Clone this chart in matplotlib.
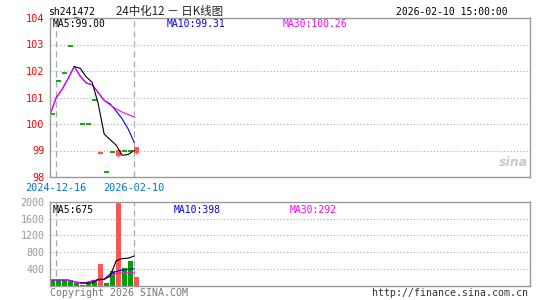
import numpy as np
import matplotlib
matplotlib.use('Agg')
import matplotlib.pyplot as plt

nan = np.nan

# daily candles (index 0..14)
opens = [100.37, 101.62, 101.94, 102.94, 104.0, 100.0, 100.0, 100.9, 98.88, 98.2, 98.96, 98.79, 99.0, 98.98, 98.89]
closes = [100.37, 101.62, 101.94, 102.94, 104.0, 100.0, 100.0, 100.9, 98.95, 98.2, 98.96, 99.01, 99.0, 98.98, 99.14]
highs = [100.37, 101.62, 101.94, 102.94, 104.0, 100.0, 100.0, 100.9, 98.97, 98.2, 98.96, 99.05, 99.0, 98.98, 99.15]
lows = [100.37, 101.62, 101.94, 102.94, 104.0, 100.0, 100.0, 100.9, 98.86, 98.2, 98.96, 98.75, 99.0, 98.98, 98.87]
up_days = [False] * 8 + [True, False, False, True, False, False, True]

ma5 = [nan, nan, nan, nan, 102.17, 102.10, 101.78, 101.57, 100.77, 99.62, 99.41, 99.20, 98.82, 98.85, 99.00]
ma10 = [100.37, 100.99, 101.31, 101.72, 102.17, 101.81, 101.55, 101.48, 101.19, 100.89, 100.76, 100.49, 100.19, 99.81, 99.31]
ma30 = [100.37, 100.99, 101.31, 101.72, 102.17, 101.81, 101.55, 101.48, 101.19, 100.89, 100.72, 100.57, 100.45, 100.36, 100.26]

volumes = [143, 143, 143, 143, 64, 17, 79, 143, 524, 64, 365, 2100, 420, 603, 214]
vol_ma5 = [nan, nan, nan, nan, nan, 70, 70, 75, 159, 159, 230, 600, 650, 660, 710]
vol_ma10 = [143, 143, 143, 143, 100, 79, 79, 120, 143, 159, 290, 345, 380, 395, 410]
vol_ma30 = [143, 143, 143, 143, 100, 79, 79, 120, 143, 159, 255, 295, 310, 312, 315]

price_ticks = [98, 99, 100, 101, 102, 103, 104]
vol_ticks = [400, 800, 1200, 1600, 2000]
date_labels = ['2024-12-16', '2026-02-10']
date_pos = [0.6, 13.6]

GREEN = '#00a000'
RED = '#ff5555'
BORDER = '#999999'
GRIDC = '#aaaaaa'
MONO = 'DejaVu Sans Mono'

x = np.arange(len(closes))
xl = x - 0.35  # lines sit a little left of the candles
xlim = (-0.38, 79.62)

fig = plt.figure(figsize=(5.45, 3.0), dpi=100)
ax = fig.add_axes([50 / 545, 1 - 177 / 300, 480 / 545, 159 / 300])
axv = fig.add_axes([50 / 545, 1 - 286 / 300, 480 / 545, 84.3 / 300])

for a in (ax, axv):
    a.set_xlim(*xlim)
    for s in a.spines.values():
        s.set_color(BORDER)
        s.set_linewidth(1.0)
    for p in date_pos:
        a.axvline(p, color=GRIDC, lw=0.9, ls=(0, (5, 3)), zorder=0)

# ---- price panel
ax.set_ylim(98, 104)
for v in price_ticks[1:-1]:
    ax.axhline(v, color=GRIDC, lw=0.8, ls=(0, (1, 2)), zorder=0)
ax.set_yticks(price_ticks)
ax.set_yticklabels([str(v) for v in price_ticks], family=MONO, fontsize=7.4, color='red')
ax.set_xticks(date_pos)
ax.set_xticklabels(date_labels, family=MONO, fontsize=7.4, color='#0077cc')
ax.tick_params(length=0, pad=4)

w = 0.42
for i in range(len(closes)):
    c = RED if up_days[i] else GREEN
    if highs[i] != lows[i]:
        ax.vlines(i, lows[i], highs[i], color=c, lw=1.0)
    if opens[i] == closes[i]:
        ax.hlines(closes[i], i - w, i + w, color=c, lw=1.3, clip_on=False)
    else:
        lo = min(opens[i], closes[i])
        ax.bar(i, abs(closes[i] - opens[i]), bottom=lo, width=2 * w, color=c, lw=0)

ax.plot(xl, ma10, color='#0000ff', lw=0.8)
ax.plot(xl, ma30, color='#ff00ff', lw=0.8)
ax.plot(xl, ma5, color='black', lw=0.8)

ax.text(0.006, 0.965, 'MA5:99.00', transform=ax.transAxes, family=MONO, fontsize=7, color='black', va='center')
ax.text(0.243, 0.965, 'MA10:99.31', transform=ax.transAxes, family=MONO, fontsize=7, color='#0000ff', va='center')
ax.text(0.485, 0.965, 'MA30:100.26', transform=ax.transAxes, family=MONO, fontsize=7, color='#ff00ff', va='center')
ax.text(0.995, 0.09, 'sina', transform=ax.transAxes, fontsize=9, color='#c8c8c8',
        style='italic', fontweight='bold', ha='right', va='center')

# ---- volume panel
axv.set_ylim(0, 2000)
for v in vol_ticks[:-1]:
    axv.axhline(v, color=GRIDC, lw=0.8, ls=(0, (1, 2)), zorder=0)
axv.set_yticks(vol_ticks)
axv.set_yticklabels([str(v) for v in vol_ticks], family=MONO, fontsize=7.2, color=BORDER)
axv.set_xticks([])
axv.tick_params(length=0, pad=4)
axv.bar(x, volumes, width=0.83, color=[RED if u else GREEN for u in up_days], lw=0)
axv.plot(xl, vol_ma10, color='#0000ff', lw=0.8)
axv.plot(xl, vol_ma30, color='#ff00ff', lw=0.8)
axv.plot(xl, vol_ma5, color='black', lw=0.8)

axv.text(0.006, 0.9, 'MA5:675', transform=axv.transAxes, family=MONO, fontsize=7, color='black', va='center')
axv.text(0.258, 0.9, 'MA10:398', transform=axv.transAxes, family=MONO, fontsize=7, color='#0000ff', va='center')
axv.text(0.5, 0.9, 'MA30:292', transform=axv.transAxes, family=MONO, fontsize=7, color='#ff00ff', va='center')

# ---- header / footer
fig.text(48 / 545, 1 - 12 / 300, 'sh241472', family=MONO, fontsize=7, color='black', va='center')
fig.text(116 / 545, 1 - 11 / 300, '24中化12 － 日K线图', family=['Noto Sans CJK SC', 'DejaVu Sans'],
         fontsize=8.3, color='#222222', va='center')
fig.text(508 / 545, 1 - 12 / 300, '2026-02-10 15:00:00', family=MONO, fontsize=7, color='black',
         va='center', ha='right')
fig.text(50 / 545, 1 - 293 / 300, 'Copyright 2026 SINA.COM', family=MONO, fontsize=7.2, color='#777777', va='center')
fig.text(528 / 545, 1 - 293 / 300, 'http://finance.sina.com.cn', family=MONO, fontsize=7.1, color='#333333',
         va='center', ha='right')

fig.savefig('out.png', dpi=100)
